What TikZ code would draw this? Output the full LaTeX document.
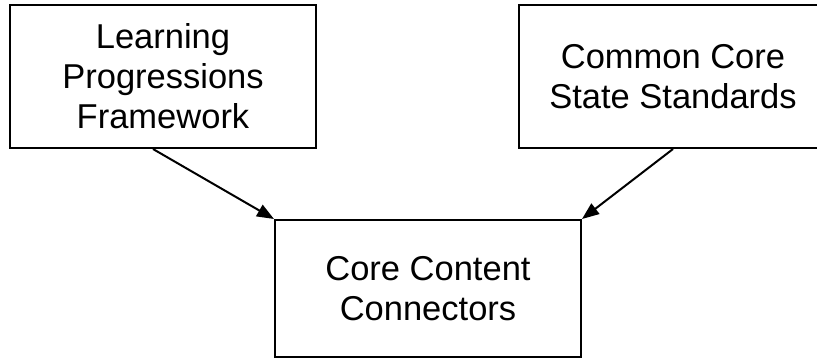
\documentclass[tikz,border=0pt]{standalone}
\usepackage{fontspec}
\setmainfont{Liberation Sans}
\usepackage{tikz}
\usetikzlibrary{calc,positioning,arrows.meta}
\tikzset{
  plainbox/.style={draw=black,line width=2pt,align=center,inner sep=0pt,
    font=\fontsize{34.5}{40}\selectfont},
  feedline/.style={draw=black,line width=2pt,-{Triangle[length=17pt,width=13pt]}},
}

\begin{document}
\begin{tikzpicture}[x=1pt,y=1pt]
        \useasboundingbox (0,0) rectangle (817,-360);
        % the two sources on top
        \node[plainbox,minimum width=306pt,minimum height=143pt] (lpf) at (163,-76.5)
          {Learning\\Progressions\\Framework};
        \node[plainbox,minimum width=308pt,minimum height=143pt] (ccss) at (673,-76.5)
          {Common Core\\State Standards};
        % the box they both feed
        \node[plainbox,minimum width=306pt,minimum height=137pt] (ccc) at (428,-288.5)
          {Core Content\\Connectors};
        \draw[feedline] ($(lpf.south)+(-10,0)$) -- (ccc.north west);
        \draw[feedline] (ccss.south) -- (ccc.north east);
      \end{tikzpicture}
\end{document}
